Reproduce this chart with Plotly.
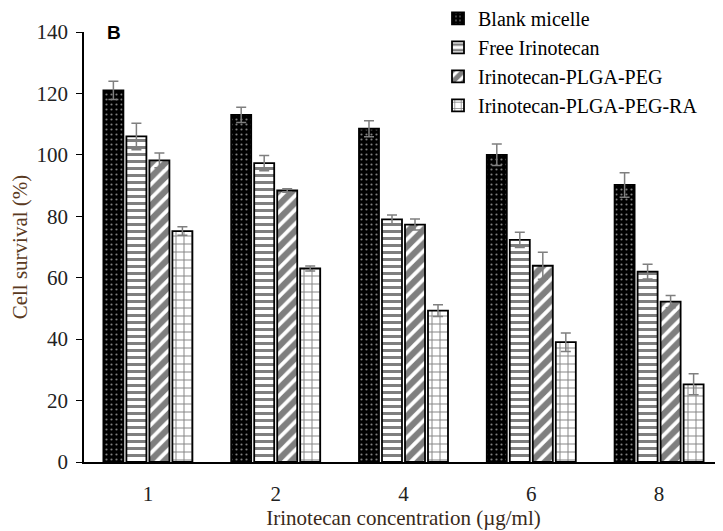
import plotly.graph_objects as go

categories = ["1", "2", "4", "6", "8"]
series_names = ["Blank micelle", "Free Irinotecan", "Irinotecan-PLGA-PEG", "Irinotecan-PLGA-PEG-RA"]
blank_micelle = [121, 113, 108.5, 100, 90.2]
blank_err = [3, 2.5, 2.6, 3.5, 4]
free_irinotecan = [106, 97.3, 79, 72.3, 62]
free_err = [4.3, 2.5, 1.4, 2.5, 2.4]
plga_peg = [98.2, 88.4, 77.3, 63.9, 52.2]
plga_peg_err = [2.4, 0.6, 1.8, 4.4, 2]
plga_peg_ra = [75.2, 63, 49.3, 39, 25.3]
plga_peg_ra_err = [1.4, 0.8, 1.9, 3, 3.4]

values = [blank_micelle, free_irinotecan, plga_peg, plga_peg_ra]
errors = [blank_err, free_err, plga_peg_err, plga_peg_ra_err]
styles = [
    dict(color="black", pattern=dict(shape=".", fgcolor="white", size=5, solidity=0.15)),
    dict(color="white", pattern=dict(shape="-", fgcolor="black", size=7, solidity=3 / 7)),
    dict(color="white", pattern=dict(shape="/", fgcolor="black", size=10, solidity=0.62)),
    dict(color="white", pattern=dict(shape="+", fgcolor="black", size=8, solidity=0.22)),
]

serif = "Liberation Serif, Times New Roman, serif"
fig = go.Figure()
for name, vals, errs, st in zip(series_names, values, errors, styles):
    fig.add_trace(go.Bar(
        x=categories, y=vals, name=name,
        marker=dict(color=st["color"], pattern=st["pattern"],
                    line=dict(color="black", width=1.8)),
        error_y=dict(type="data", array=errs, visible=True,
                     color="#7f7f7f", thickness=1.5, width=5),
    ))

fig.update_layout(
    width=715, height=523,
    margin=dict(l=76, r=0, t=24, b=69, autoexpand=False),
    paper_bgcolor="white", plot_bgcolor="white",
    barmode="group", bargap=0.28, bargroupgap=0.13,
    font=dict(family=serif, size=21, color="#222222"),
    showlegend=True,
    legend=dict(x=0.554, y=1.077, xref="paper", yref="paper",
                xanchor="left", yanchor="top",
                bgcolor="rgba(0,0,0,0)", font=dict(family=serif, size=20, color="black"),
                tracegroupgap=0),
    xaxis=dict(showline=True, linecolor="black", linewidth=1.5,
               ticks="outside", ticklen=12, tickcolor="rgba(0,0,0,0)",
               tickfont=dict(family=serif, size=21, color="#222222"),
               title=dict(text="Irinotecan concentration (µg/ml)", standoff=4,
                          font=dict(family=serif, size=21, color="#3a2a1a")),
               showgrid=False, zeroline=False, automargin=False),
    yaxis=dict(range=[0, 140], dtick=20, showline=True, linecolor="black", linewidth=1.5,
               ticks="outside", ticklen=6, tickcolor="black", ticklabelstandoff=4,
               tickfont=dict(family=serif, size=21, color="#222222"),
               title=dict(text="Cell survival (%)", standoff=12,
                          font=dict(family=serif, size=21, color="#5a3a22")),
               showgrid=False, zeroline=False, automargin=False),
    annotations=[dict(text="<b>B</b>", x=0.047, y=1.0, xref="paper", yref="paper",
                      xanchor="center", yanchor="middle", showarrow=False,
                      font=dict(family="Liberation Sans, Arial, sans-serif", size=19, color="black"))],
)

fig.write_html("out.html")
